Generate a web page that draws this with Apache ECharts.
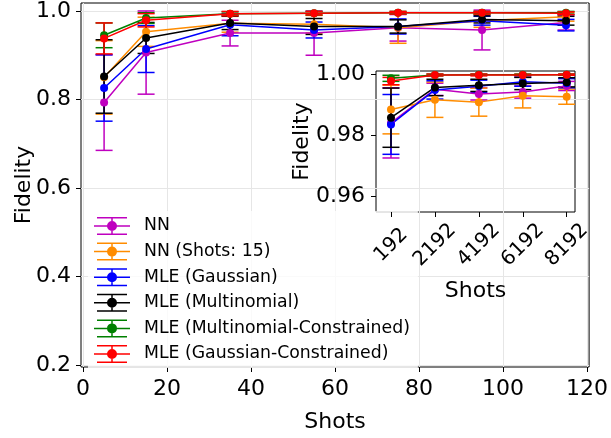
<!DOCTYPE html>
<html>
<head>
<meta charset="utf-8">
<script src="https://cdn.jsdelivr.net/npm/echarts@6/dist/echarts.min.js"></script>
<style>
html,body{margin:0;padding:0;background:#fff}
#chart-panel{width:611px;height:438px}
</style>
</head>
<body>
<div id="chart-panel"></div>
<script>
var names = ['NN', 'NN (Shots: 15)', 'MLE (Gaussian)', 'MLE (Multinomial)', 'MLE (Multinomial-Constrained)', 'MLE (Gaussian-Constrained)'];
var colors = ['#bf00bf', '#ff8c00', '#0000ff', '#000000', '#008000', '#ff0000'];

// main plot, low shot counts
var shots = [5, 15, 35, 55, 75, 95, 115];
var nnMean = [0.793, 0.906, 0.950, 0.950, 0.962, 0.957, 0.974];
var nnErr = [0.108, 0.094, 0.029, 0.050, 0.030, 0.045, 0.017];
var nn15Mean = [0.850, 0.953, 0.972, 0.970, 0.962, 0.978, 0.987];
var nn15Err = [0.083, 0.033, 0.020, 0.020, 0.035, 0.015, 0.010];
var gaussMean = [0.826, 0.914, 0.969, 0.957, 0.965, 0.978, 0.968];
var gaussErr = [0.075, 0.053, 0.025, 0.018, 0.017, 0.010, 0.013];
var multiMean = [0.852, 0.939, 0.973, 0.965, 0.965, 0.981, 0.978];
var multiErr = [0.083, 0.035, 0.015, 0.018, 0.015, 0.008, 0.010];
var multiConMean = [0.945, 0.984, 0.994, 0.995, 0.996, 0.996, 0.996];
var multiConErr = [0.028, 0.012, 0.004, 0.004, 0.003, 0.003, 0.003];
var gaussConMean = [0.938, 0.979, 0.994, 0.995, 0.996, 0.996, 0.995];
var gaussConErr = [0.035, 0.015, 0.005, 0.004, 0.003, 0.003, 0.003];

// inset, high shot counts
var shotsHi = [192, 2192, 4192, 6192, 8192];
var nnMeanHi = [0.9840, 0.9950, 0.9935, 0.9941, 0.9961];
var nnErrHi = [0.0115, 0.0020, 0.0020, 0.0020, 0.0015];
var nn15MeanHi = [0.9884, 0.9916, 0.9908, 0.9929, 0.9926];
var nn15ErrHi = [0.0080, 0.0058, 0.0046, 0.0040, 0.0025];
var gaussMeanHi = [0.9835, 0.9948, 0.9960, 0.9975, 0.9970];
var gaussErrHi = [0.0098, 0.0030, 0.0020, 0.0015, 0.0015];
var multiMeanHi = [0.9857, 0.9956, 0.9963, 0.9969, 0.9973];
var multiErrHi = [0.0097, 0.0027, 0.0020, 0.0020, 0.0015];
var multiConMeanHi = [0.9986, 0.9997, 0.9998, 0.9998, 0.9998];
var multiConErrHi = [0.0010, 0.0003, 0.0002, 0.0002, 0.0002];
var gaussConMeanHi = [0.9977, 0.9997, 0.9997, 0.9997, 0.9998];
var gaussConErrHi = [0.0012, 0.0003, 0.0003, 0.0002, 0.0002];

var xTicks = [0, 20, 40, 60, 80, 100, 120];
var yTicks = [0.2, 0.4, 0.6, 0.8, 1.0];
var yTicksHi = [0.96, 0.98, 1.00];

var mainMeans = [nnMean, nn15Mean, gaussMean, multiMean, multiConMean, gaussConMean];
var mainErrs = [nnErr, nn15Err, gaussErr, multiErr, multiConErr, gaussConErr];
var hiMeans = [nnMeanHi, nn15MeanHi, gaussMeanHi, multiMeanHi, multiConMeanHi, gaussConMeanHi];
var hiErrs = [nnErrHi, nn15ErrHi, gaussErrHi, multiErrHi, multiConErrHi, gaussConErrHi];

var font = 'DejaVu Sans';
// errorbar legend glyph: caps, stem, horizontal line and dot
var legendIcon = 'path://M3 0H33V1.5H3Z M3 16.5H33V18H3Z M17.25 0H18.75V18H17.25Z M0 8.25H36V9.75H0Z M23 9A5 5 0 1 1 13 9A5 5 0 1 1 23 9Z';

function errRender(params, api) {
	var x = api.value(0), m = api.value(1), e = api.value(2);
	var lo = api.coord([x, m - e]);
	var hi = api.coord([x, m + e]);
	var w = 8.5;
	var st = {stroke: api.visual('color'), lineWidth: 1.5};
	return {
		type: 'group',
		children: [
			{type: 'line', shape: {x1: lo[0], y1: lo[1], x2: hi[0], y2: hi[1]}, style: st},
			{type: 'line', shape: {x1: lo[0] - w, y1: lo[1], x2: lo[0] + w, y2: lo[1]}, style: st},
			{type: 'line', shape: {x1: hi[0] - w, y1: hi[1], x2: hi[0] + w, y2: hi[1]}, style: st}
		]
	};
}

var series = [{
	type: 'line', name: 'grid', data: [], xAxisIndex: 0, yAxisIndex: 0, silent: true, z: 1,
	markLine: {
		symbol: ['none', 'none'], silent: true, animation: false, z: 1,
		label: {show: false},
		lineStyle: {color: '#e6e6e6', width: 1, type: 'solid'},
		data: xTicks.map(function (v) { return {xAxis: v}; }).concat(yTicks.map(function (v) { return {yAxis: v}; }))
	}
}];

function addSeries(xs, means, errs, axisIdx) {
	for (var i = 0; i < names.length; i++) {
		var errData = [], lineData = [];
		for (var j = 0; j < xs.length; j++) {
			errData.push([xs[j], means[i][j], errs[i][j]]);
			lineData.push([xs[j], means[i][j]]);
		}
		series.push({
			type: 'custom', name: names[i], xAxisIndex: axisIdx, yAxisIndex: axisIdx,
			renderItem: errRender, itemStyle: {color: colors[i]},
			encode: {x: 0, y: 1}, data: errData, z: 2, clip: true
		});
		series.push({
			type: 'line', name: names[i], xAxisIndex: axisIdx, yAxisIndex: axisIdx,
			data: lineData, symbol: 'circle', symbolSize: 8, showSymbol: true,
			itemStyle: {color: colors[i]}, lineStyle: {color: colors[i], width: 1.5}, z: 2
		});
	}
}
addSeries(shots, mainMeans, mainErrs, 0);
addSeries(shotsHi, hiMeans, hiErrs, 1);

var nameStyle = {fontSize: 22, fontFamily: font, color: '#000'};
var tickStyle = {show: true, inside: false, length: 5, lineStyle: {color: '#000'}};

var myChart = echarts.init(document.getElementById('chart-panel'));
option = {
	animation: false,
	backgroundColor: '#fff',
	textStyle: {fontFamily: font, color: '#000'},
	grid: [
		{left: 81, right: 14, top: 2, bottom: 70, show: true, borderColor: '#000', borderWidth: 1, backgroundColor: 'transparent'},
		{left: 376, right: 36, top: 71, bottom: 226, show: true, borderColor: '#000', borderWidth: 1, backgroundColor: 'transparent'}
	],
	xAxis: [{
		type: 'value', gridIndex: 0, min: -0.5, max: 120.5,
		name: 'Shots', nameLocation: 'middle', nameGap: 44, nameMoveOverlap: false, nameTextStyle: nameStyle,
		axisLine: {show: false, onZero: false},
		axisTick: Object.assign({customValues: xTicks}, tickStyle),
		axisLabel: {fontSize: 22, fontFamily: font, color: '#000', margin: 11, customValues: xTicks},
		splitLine: {show: false}
	}, {
		type: 'value', gridIndex: 1, min: -490, max: 8569, z: 6,
		name: 'Shots', nameLocation: 'middle', nameGap: 68, nameMoveOverlap: false, nameTextStyle: nameStyle,
		axisLine: {show: false, onZero: false},
		axisTick: Object.assign({customValues: shotsHi}, tickStyle),
		axisLabel: {fontSize: 20, fontFamily: font, color: '#000', margin: 33, rotate: 45, align: 'center', verticalAlign: 'middle', customValues: shotsHi,
			formatter: function (v) { return String(v); }},
		splitLine: {show: false}
	}],
	yAxis: [{
		type: 'value', gridIndex: 0, min: 0.1955, max: 1.018,
		name: 'Fidelity', nameLocation: 'middle', nameGap: 46, nameMoveOverlap: false, nameTextStyle: nameStyle,
		axisLine: {show: false, onZero: false},
		axisTick: Object.assign({customValues: yTicks}, tickStyle),
		axisLabel: {fontSize: 22, fontFamily: font, color: '#000', margin: 10, customValues: yTicks,
			formatter: function (v) { return v.toFixed(1); }},
		splitLine: {show: false}
	}, {
		type: 'value', gridIndex: 1, min: 0.9548, max: 1.001, z: 6,
		name: 'Fidelity', nameLocation: 'middle', nameGap: 63, nameMoveOverlap: false, nameTextStyle: nameStyle,
		axisLine: {show: false, onZero: false},
		axisTick: Object.assign({customValues: yTicksHi}, tickStyle),
		axisLabel: {fontSize: 22, fontFamily: font, color: '#000', margin: 11, customValues: yTicksHi,
			formatter: function (v) { return v.toFixed(2); }},
		splitLine: {show: false}
	}],
	legend: {
		orient: 'vertical', left: 88, top: 211, z: 3,
		padding: [6, 8, 5, 6],
		itemWidth: 36, itemHeight: 18, itemGap: 7.6,
		selectedMode: false,
		backgroundColor: 'rgba(255,255,255,0.8)',
		borderWidth: 0,
		textStyle: {fontSize: 17.3, fontFamily: font, color: '#000', padding: [0, 0, 0, 9]},
		data: names.map(function (n) { return {name: n, icon: legendIcon}; })
	},
	series: series
};
myChart.setOption(option);
</script>
</body>
</html>
